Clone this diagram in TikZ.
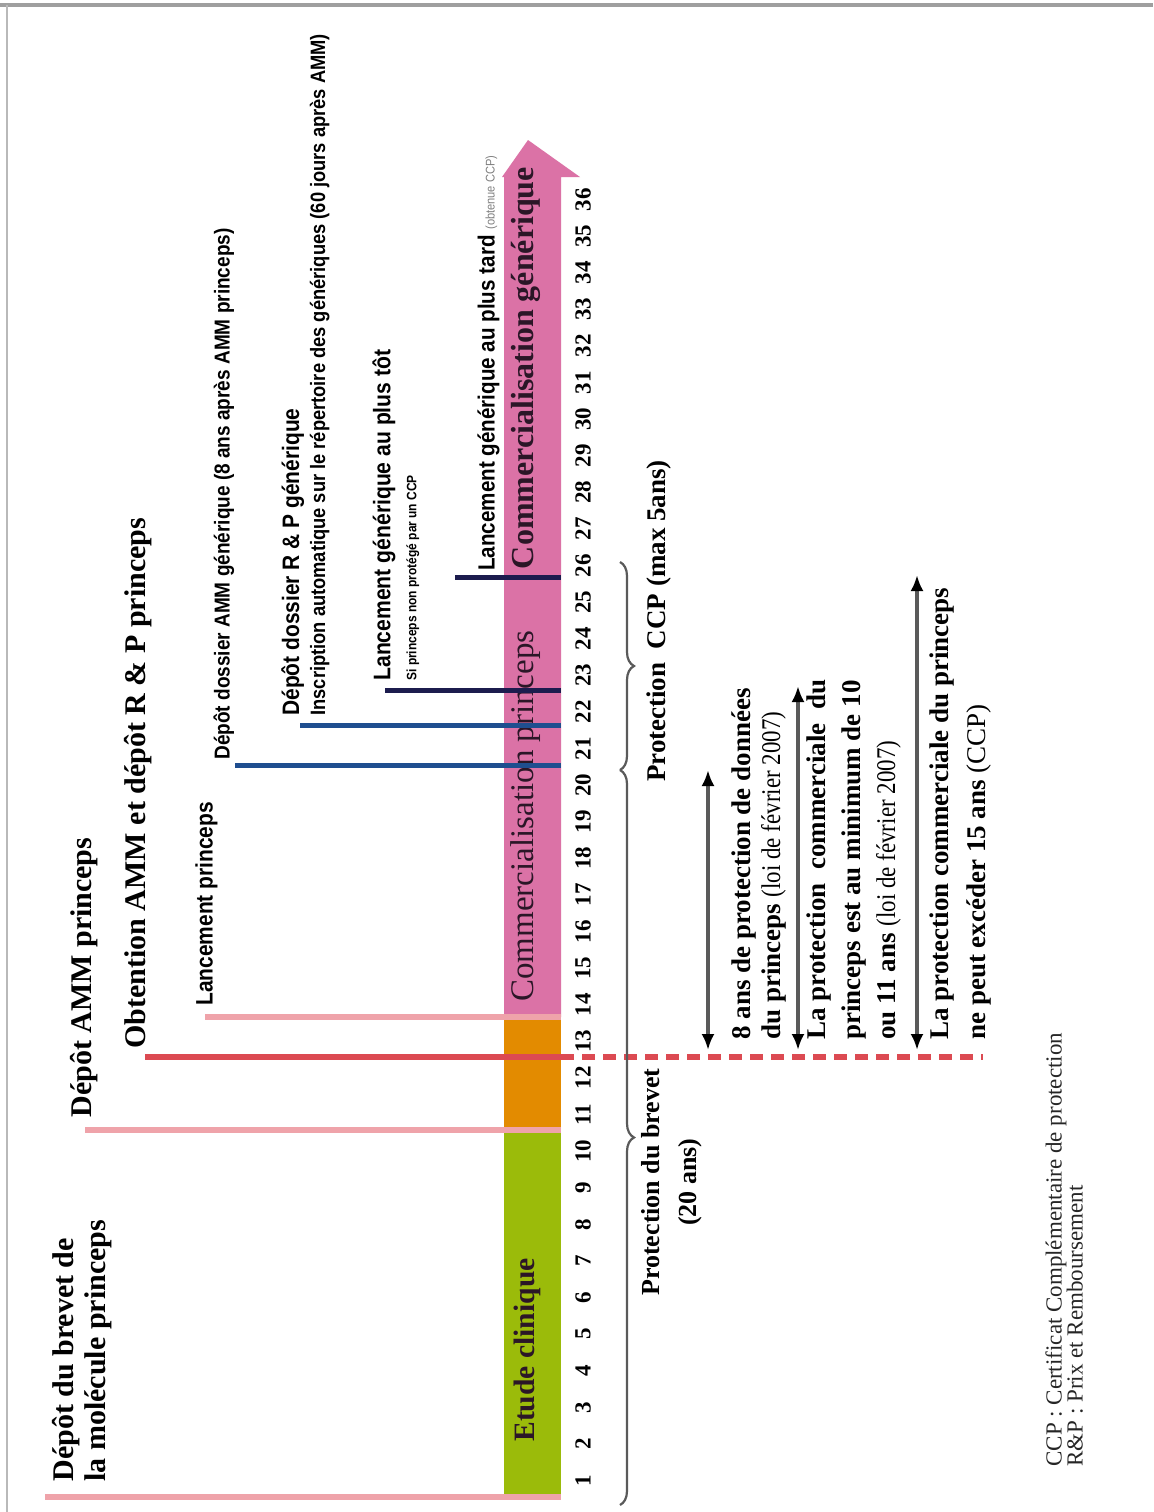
\documentclass[tikz,border=0pt]{standalone}
\usepackage{fontspec}
\setmainfont{Liberation Serif}
\newfontfamily\narrowsans[FakeStretch=0.88]{Liberation Sans}
\newfontfamily\narrowserif[FakeStretch=0.85]{Liberation Serif}
\usetikzlibrary{arrows.meta,decorations.pathreplacing}
\definecolor{cliniquegreen}{HTML}{9BBB0A}
\definecolor{ammorange}{HTML}{E38B00}
\definecolor{commpink}{HTML}{DB72A6}
\definecolor{polepink}{HTML}{EFA3AA}
\definecolor{polered}{HTML}{DC4A52}
\definecolor{poleblue}{HTML}{1F4E8F}
\definecolor{polenavy}{HTML}{1C1C4E}
\definecolor{bartext}{HTML}{2B1627}
\definecolor{linegray}{HTML}{5A5A5A}
\tikzset{
    vert-label/.style = {rotate=90, inner sep=0pt, anchor=north west, align=left},
    big-label/.style = {vert-label, font=\fontsize{15}{16}\selectfont\bfseries},
    flag-label/.style = {vert-label, font=\narrowsans\bfseries\fontsize{#1}{13}\selectfont},
    note-label/.style = {vert-label, font=\fontsize{13.5}{#1}\selectfont\bfseries},
    bar-label/.style = {rotate=90, inner sep=0pt, text=bartext},
    year-num/.style = {rotate=90, inner sep=0pt, font=\fontsize{11.5}{12}\selectfont\bfseries},
    pole/.style = {line width=3pt},
    period-brace/.style = {draw=linegray, line width=1.1pt, decorate, decoration={brace, amplitude=7pt}},
    span-arrow/.style = {draw=linegray, line width=2pt, {Latex[length=8pt,width=6.5pt,color=black]}-{Latex[length=8pt,width=6.5pt,color=black]}},
}
\begin{document}
\begin{tikzpicture}[x=0.5pt, y=-0.5pt]
\useasboundingbox (0,0) rectangle (1153,1512);
\fill[white] (0,0) rectangle (1153,1512);
\draw[gray!75, line width=2pt] (0,5) -- (1153,5);
\draw[gray!55, line width=0.8pt] (7,5) -- (7,1512);

% time bar
\fill[cliniquegreen] (504,1130) rectangle (561,1497);
\fill[ammorange] (504,1017) rectangle (561,1130);
\fill[commpink] (504,1017) -- (504,177) -- (502,177) -- (528,140) -- (580,177) -- (561,177) -- (561,1017) -- cycle;
\coordinate (barR) at (561,0);

\node[bar-label, font=\fontsize{14.8}{15}\selectfont\bfseries] (etude) at (527,1350) {Etude clinique};
\node[bar-label, font=\fontsize{16.5}{17}\selectfont] (commprinc) at (526,816) {Commercialisation princeps};
\node[bar-label, font=\fontsize{16}{17}\selectfont\bfseries] (commgen) at (526,368) {Commercialisation générique};

\foreach \n in {1,...,36}
    \node[year-num] (yr\n) at (583, {1480.5-(\n-1)*36.6}) {\n};

% events
\node[big-label] (brevet) at (52,1482) {Dépôt du brevet de\\la molécule princeps};
\node[big-label] (depotamm) at (70,1118) {Dépôt AMM princeps};
\node[big-label] (obtamm) at (124,1049) {Obtention AMM et dépôt R \& P princeps};
\node[flag-label=11.9] (lancprinc) at (195,1006) {Lancement princeps};
\node[flag-label=10.8] (ammgen) at (213,760) {Dépôt dossier AMM générique (8 ans après AMM princeps)};
\node[flag-label=11.9] (rpgen) at (281,716)
    {Dépôt dossier R \& P générique\\\fontsize{10.4}{10}\selectfont Inscription automatique sur le répertoire des génériques (60 jours après AMM)};
\node[flag-label=12] (plustot) at (372,681)
    {Lancement générique au plus tôt\\\fontsize{6.8}{10}\selectfont Si princeps non protégé par un CCP};
\node[flag-label=11.7] (plustard) at (477,571)
    {Lancement générique au plus tard {\fontsize{6.3}{7}\selectfont\mdseries\color{gray}(obtenue CCP)}};

\coordinate (brevetP) at (45,1497);
\coordinate (depotammP) at (85,1130);
\coordinate (obtammP) at (145,1057);
\coordinate (lancprincP) at (205,1017);
\coordinate (ammgenP) at (235,765);
\coordinate (rpgenP) at (300,725);
\coordinate (plustotP) at (385,690);
\coordinate (plustardP) at (455,577);
\coordinate (obtammE) at (obtammP -| barR);
\coordinate (dashEnd) at (983,1057);

\draw[pole, polepink] (brevetP) -- (brevetP -| barR);
\draw[pole, polepink] (depotammP) -- (depotammP -| barR);
\draw[pole, polered] (obtammP) -- (obtammE);
\draw[pole, polered, dash pattern=on 6.5pt off 4pt] (obtammE) -- (dashEnd);
\draw[pole, polepink] (lancprincP) -- (lancprincP -| barR);
\draw[pole, poleblue, line width=2.5pt] (ammgenP) -- (ammgenP -| barR);
\draw[pole, poleblue, line width=2.5pt] (rpgenP) -- (rpgenP -| barR);
\draw[pole, polenavy, line width=2.5pt] (plustotP) -- (plustotP -| barR);
\draw[pole, polenavy, line width=2.5pt] (plustardP) -- (plustardP -| barR);

% protection periods
\coordinate (brevetTop) at (620,770);
\coordinate (brevetBot) at (620,1505);
\coordinate (ccpTop) at (620,562);
\draw[period-brace] (brevetTop) -- (brevetBot);
\draw[period-brace] (ccpTop) -- (brevetTop);
\node[rotate=90, align=center, inner sep=0pt, font=\fontsize{13}{18.5}\selectfont\bfseries] (brevetprot) at (672,1182) {Protection du brevet\\(20 ans)};
\node[rotate=90, inner sep=0pt, font=\fontsize{13.5}{15}\selectfont\bfseries] (ccpprot) at (659,621) {Protection\ \ CCP (max 5ans)};

\coordinate (a1b) at (708,1050);
\coordinate (a1t) at (708,770);
\coordinate (a2b) at (798,1050);
\coordinate (a2t) at (798,686);
\coordinate (a3b) at (917,1050);
\coordinate (a3t) at (917,575);
\draw[span-arrow] (a1b) -- (a1t);
\draw[span-arrow] (a2b) -- (a2t);
\draw[span-arrow] (a3b) -- (a3t);

\node[note-label=15] (donnees) at (731,1040)
    {8 ans de protection de données\\du princeps {\narrowserif\mdseries(loi de février 2007)}};
\node[note-label=17.5] (minimum) at (806,1040)
    {La protection\ \ commerciale\ \ du\\princeps est au minimum de 10\\ou 11 ans {\narrowserif\mdseries(loi de février 2007)}};
\node[note-label=18.5] (maximum) at (929,1040)
    {La protection commerciale du princeps\\ne peut excéder 15 ans {\mdseries(CCP)}};

% legend
\node[vert-label, font=\fontsize{11.5}{10.5}\selectfont, text=black!85] (legend) at (1045,1467)
    {CCP : Certificat Complémentaire de protection\\R\&P : Prix et Remboursement};
\end{tikzpicture}
\end{document}
